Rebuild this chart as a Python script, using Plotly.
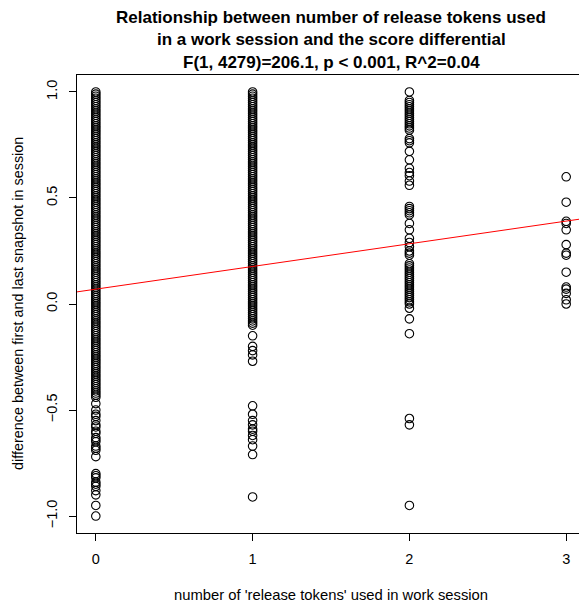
import plotly.graph_objects as go

tokens0 = [1.00, 0.99, 0.98, 0.97, 0.96, 0.95, 0.94, 0.93, 0.92, 0.91, 0.90, 0.89, 0.88, 0.87, 0.86,
           0.85, 0.84, 0.83, 0.82, 0.81, 0.80, 0.79, 0.78, 0.77, 0.76, 0.75, 0.74, 0.73, 0.72, 0.71,
           0.70, 0.69, 0.68, 0.67, 0.66, 0.65, 0.64, 0.63, 0.62, 0.61, 0.60, 0.59, 0.58, 0.57, 0.56,
           0.55, 0.54, 0.53, 0.52, 0.51, 0.50, 0.49, 0.48, 0.47, 0.46, 0.45, 0.44, 0.43, 0.42, 0.41,
           0.40, 0.39, 0.38, 0.37, 0.36, 0.35, 0.34, 0.33, 0.32, 0.31, 0.30, 0.29, 0.28, 0.27, 0.26,
           0.25, 0.24, 0.23, 0.22, 0.21, 0.20, 0.19, 0.18, 0.17, 0.16, 0.15, 0.14, 0.13, 0.12, 0.11,
           0.10, 0.09, 0.08, 0.07, 0.06, 0.05, 0.04, 0.03, 0.02, 0.01, 0.00, -0.01, -0.02, -0.03,
           -0.04, -0.05, -0.06, -0.07, -0.08, -0.09, -0.10, -0.11, -0.12, -0.13, -0.14, -0.15,
           -0.16, -0.17, -0.18, -0.19, -0.20, -0.21, -0.22, -0.23, -0.24, -0.25, -0.26, -0.27,
           -0.28, -0.29, -0.30, -0.31, -0.32, -0.33, -0.34, -0.35, -0.36, -0.37, -0.38, -0.39,
           -0.40, -0.41, -0.42, -0.43, -0.44, -0.47, -0.50, -0.52, -0.53, -0.55, -0.57, -0.58,
           -0.60, -0.61, -0.63, -0.64, -0.65, -0.67, -0.68, -0.69, -0.72, -0.80, -0.81, -0.82,
           -0.84, -0.85, -0.86, -0.88, -0.90, -0.95, -1.00]
tokens1 = [1.00, 0.99, 0.98, 0.97, 0.96, 0.95, 0.94, 0.93, 0.92, 0.91, 0.90, 0.89, 0.88, 0.87, 0.86,
           0.85, 0.84, 0.83, 0.82, 0.81, 0.80, 0.79, 0.78, 0.77, 0.76, 0.75, 0.74, 0.73, 0.72, 0.71,
           0.70, 0.69, 0.68, 0.67, 0.66, 0.65, 0.64, 0.63, 0.62, 0.61, 0.60, 0.59, 0.58, 0.57, 0.56,
           0.55, 0.54, 0.53, 0.52, 0.51, 0.50, 0.49, 0.48, 0.47, 0.46, 0.45, 0.44, 0.43, 0.42, 0.41,
           0.40, 0.39, 0.38, 0.37, 0.36, 0.35, 0.34, 0.33, 0.32, 0.31, 0.30, 0.29, 0.28, 0.27, 0.26,
           0.25, 0.24, 0.23, 0.22, 0.21, 0.20, 0.19, 0.18, 0.17, 0.16, 0.15, 0.14, 0.13, 0.12, 0.11,
           0.10, 0.09, 0.08, 0.07, 0.06, 0.05, 0.04, 0.03, 0.02, 0.01, 0.00, -0.01, -0.02, -0.03,
           -0.04, -0.05, -0.06, -0.07, -0.08, -0.09, -0.10,
           -0.15, -0.20, -0.22, -0.24, -0.27, -0.48, -0.52, -0.55, -0.57, -0.59, -0.60, -0.62,
           -0.64, -0.67, -0.71, -0.91]
tokens2 = [1.00, 0.96, 0.95, 0.94, 0.93, 0.92, 0.91, 0.90, 0.89, 0.88, 0.87, 0.86, 0.85, 0.84,
           0.83, 0.82, 0.78, 0.77, 0.76, 0.72, 0.68, 0.64, 0.62, 0.605, 0.58, 0.56,
           0.46, 0.45, 0.44, 0.43, 0.42, 0.38, 0.35, 0.31, 0.29, 0.27, 0.25, 0.24, 0.23,
           0.19, 0.18, 0.17, 0.16, 0.15, 0.14, 0.13, 0.12, 0.11, 0.10, 0.09, 0.08, 0.07, 0.06,
           0.05, 0.04, 0.03, 0.02, 0.01, 0.00, -0.02, -0.07, -0.14, -0.54, -0.57, -0.95]
tokens3 = [0.60, 0.48, 0.39, 0.38, 0.35, 0.28, 0.24, 0.23, 0.15, 0.08, 0.07, 0.05, 0.02, 0.00]

token_counts = [0, 1, 2, 3]
tick_labels = ["0", "1", "2", "3"]
y_ticks = [-1.0, -0.5, 0.0, 0.5, 1.0]
y_tick_labels = ["\u22121.0", "\u22120.5", "0.0", "0.5", "1.0"]

# Fitted regression line
intercept = 0.07
slope = 0.107
line_x = [-0.3, 3.3]
line_y = [intercept + slope * v for v in line_x]

title_lines = ["Relationship between number of release tokens used",
               "in a work session and the score differential",
               "F(1, 4279)=206.1, p < 0.001, R^2=0.04"]

FONT = "Liberation Sans, Arial, Helvetica, sans-serif"

xs, ys = [], []
for k, vals in zip(token_counts, [tokens0, tokens1, tokens2, tokens3]):
    xs += [k] * len(vals)
    ys += vals

fig = go.Figure()
fig.add_trace(go.Scatter(x=xs, y=ys, mode="markers",
                         marker=dict(symbol="circle-open", size=8.5, color="black",
                                     line=dict(width=1.1, color="black")),
                         showlegend=False, hoverinfo="skip"))
fig.add_trace(go.Scatter(x=line_x, y=line_y, mode="lines",
                         line=dict(color="red", width=1), showlegend=False))

for i, t in enumerate(title_lines):
    fig.add_annotation(text="<b>%s</b>" % t, xref="paper", yref="paper",
                       x=0.5, y=1, yshift=58 - 22.5 * i, yanchor="middle", xanchor="center",
                       showarrow=False, font=dict(family=FONT, size=17, color="black"))

fig.add_annotation(text="number of 'release tokens' used in work session",
                   xref="paper", yref="paper", x=0.5, y=0, yshift=-62, yanchor="middle",
                   xanchor="center", showarrow=False, font=dict(family=FONT, size=14.8))
fig.add_annotation(text="difference between first and last snapshot in session",
                   xref="paper", yref="paper", x=0, y=0.5, xshift=-59, textangle=-90,
                   yanchor="middle", xanchor="center", showarrow=False,
                   font=dict(family=FONT, size=14.4))

# page body adds an 8px offset, so margins are shifted accordingly
fig.update_layout(
    width=587, height=604,
    margin=dict(l=69, r=10, t=67, b=79),
    paper_bgcolor="white", plot_bgcolor="white",
    font=dict(family=FONT, size=14.5, color="black"),
    xaxis=dict(range=[-0.12, 3.12], tickmode="array", tickvals=token_counts, ticktext=tick_labels,
               showgrid=False, zeroline=False, showline=True, mirror=True, linecolor="black",
               linewidth=1, ticks="outside", ticklen=7, tickcolor="black", automargin=False,
               ticklabelstandoff=6, tickfont=dict(size=14.5)),
    yaxis=dict(range=[-1.08, 1.08], tickmode="array", tickvals=y_ticks, ticktext=y_tick_labels,
               tickangle=-90, showgrid=False, zeroline=False, showline=True, mirror=True,
               linecolor="black", linewidth=1, ticks="outside", ticklen=7, tickcolor="black",
               automargin=False, ticklabelstandoff=6, tickfont=dict(size=14.5)),
)

fig.write_html("out.html")
